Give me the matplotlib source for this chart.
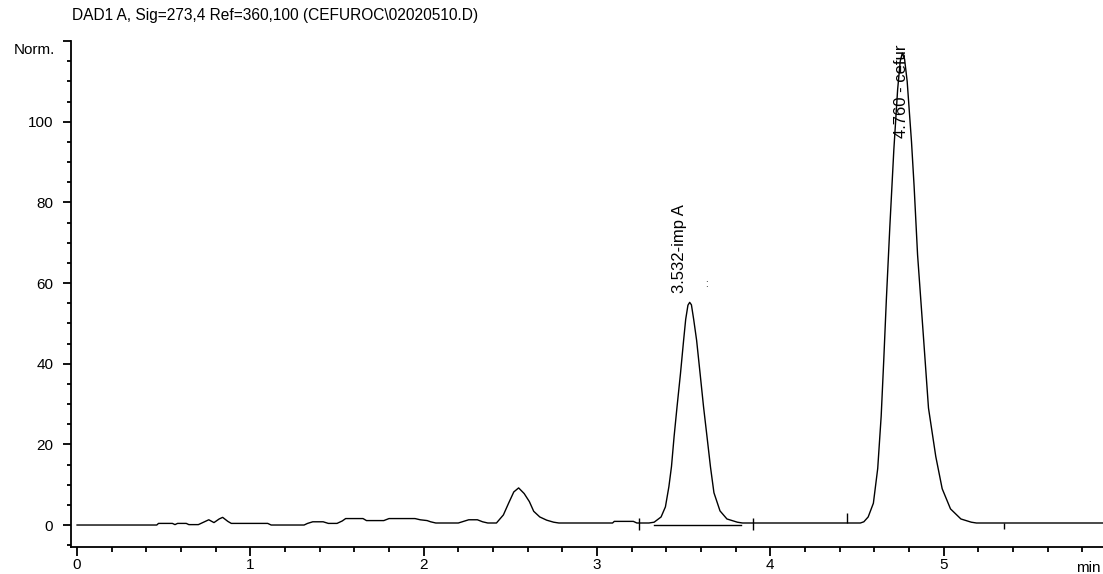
import matplotlib
matplotlib.use("Agg")
import matplotlib.pyplot as plt
from matplotlib.ticker import MultipleLocator

plt.rcParams['font.family'] = ['Liberation Sans', 'DejaVu Sans']

# Chromatogram trace (time in min, signal in Norm.)
time_min = [0.00, 0.46, 0.47, 0.55, 0.565, 0.58, 0.63, 0.645, 0.70, 0.735,
            0.76, 0.79, 0.82, 0.84, 0.87, 0.89, 1.10, 1.12, 1.31, 1.33,
            1.36, 1.42, 1.45, 1.50, 1.53, 1.55, 1.65, 1.67, 1.77, 1.80,
            1.95, 1.98, 2.02, 2.04, 2.07, 2.20, 2.23, 2.26, 2.31, 2.34,
            2.37, 2.42, 2.46, 2.49, 2.52, 2.548, 2.58, 2.61, 2.635, 2.67,
            2.71, 2.75, 2.78, 3.09, 3.10, 3.21, 3.23, 3.30, 3.33, 3.37,
            3.395, 3.415, 3.43, 3.445, 3.462, 3.482, 3.50, 3.512, 3.525, 3.535,
            3.545, 3.558, 3.575, 3.595, 3.615, 3.635, 3.655, 3.675, 3.71, 3.75,
            3.81, 3.84, 4.52, 4.54, 4.565, 4.595, 4.62, 4.64, 4.655, 4.67,
            4.69, 4.713, 4.735, 4.75, 4.762, 4.775, 4.79, 4.815, 4.83, 4.85,
            4.885, 4.913, 4.955, 4.992, 5.04, 5.10, 5.16, 5.19, 5.95]
signal = [0.0, 0.0, 0.4, 0.4, 0.1, 0.4, 0.4, 0.1, 0.1, 0.8,
          1.3, 0.6, 1.5, 1.9, 0.9, 0.4, 0.4, 0.0, 0.0, 0.4,
          0.8, 0.8, 0.4, 0.4, 1.0, 1.6, 1.6, 1.1, 1.1, 1.6,
          1.6, 1.3, 1.1, 0.8, 0.5, 0.5, 0.9, 1.3, 1.3, 0.8,
          0.5, 0.5, 2.5, 5.4, 8.2, 9.2, 7.8, 5.8, 3.4, 2.0,
          1.2, 0.7, 0.5, 0.5, 0.9, 0.9, 0.5, 0.5, 0.7, 2.0,
          4.5, 9.5, 14.5, 21.9, 29.3, 37.6, 45.8, 51.0, 54.5, 55.2,
          54.6, 51.0, 45.8, 37.6, 29.3, 21.9, 14.4, 8.0, 3.5, 1.5,
          0.7, 0.5, 0.5, 0.8, 2.0, 5.4, 14.0, 27.0, 41.0, 56.0,
          74.0, 93.0, 108.0, 115.0, 117.0, 115.5, 110.0, 95.0, 84.0, 67.0,
          46.0, 29.0, 17.0, 9.0, 4.0, 1.5, 0.7, 0.5, 0.5]

# Peak labels
peak_rt = [3.474, 4.760]
peak_label_y = [57.5, 96.0]
peak_names = ['3.532-imp A', '4.760 - cefur']

# Integration events (small marks on the baseline)
event_t = [3.24, 3.90, 4.44, 5.35]
event_lo = [-1.2, -1.2, 0.5, -1.0]
event_hi = [1.8, 1.8, 3.0, 0.5]
base_start, base_end = 3.33, 3.83

title = "DAD1 A, Sig=273,4 Ref=360,100 (CEFUROC\\02020510.D)"

#*******************************************************************************
fig = plt.figure(figsize=(11.03, 5.74), dpi=100)
W, H = 1103, 574
ax = fig.add_axes([71 / W, 27 / H, 1 - 71 / W, (547 - 41) / H])

ax.plot(time_min, signal, color='black', lw=1.0)
ax.plot([base_start, base_end], [0, 0], color='black', lw=1.0)
ax.vlines(event_t, event_lo, event_hi, color='black', lw=1.0)

for rt, ly, name in zip(peak_rt, peak_label_y, peak_names):
	ax.text(rt, ly, name, rotation=90, ha='center', va='bottom', fontsize=12)
ax.text(3.63, 58.5, ':', ha='center', va='bottom', fontsize=7)

ax.set_xlim(-0.035, 5.92)
ax.set_ylim(-5.45, 120)

ax.spines['top'].set_visible(False)
ax.spines['right'].set_visible(False)
ax.spines['left'].set_linewidth(1.3)
ax.spines['bottom'].set_linewidth(1.3)

ax.xaxis.set_major_locator(MultipleLocator(1))
ax.xaxis.set_minor_locator(MultipleLocator(0.2))
ax.set_yticks([0, 20, 40, 60, 80, 100, 120])
ax.set_yticklabels(['0', '20', '40', '60', '80', '100', ''])
ax.yaxis.set_minor_locator(MultipleLocator(5))

ax.tick_params(axis='x', which='major', length=6.5, width=1.3, pad=1.5, labelsize=11)
ax.tick_params(axis='x', which='minor', length=3.5, width=1.3)
ax.tick_params(axis='y', which='major', length=5.8, width=1.3, pad=7, labelsize=11)
ax.tick_params(axis='y', which='minor', length=3.0, width=1.3)

ax.annotate('Norm.', xy=(0, 120), xycoords=('axes fraction', 'data'),
            xytext=(-11.5, -1.5), textcoords='offset points',
            ha='right', va='top', fontsize=11)

fig.text(72 / W, 1 - 8 / H, title, ha='left', va='top', fontsize=11.2)
fig.text(1076 / W, 1 - 561 / H, 'min', ha='left', va='top', fontsize=11)

fig.savefig('out.png', dpi=100)
